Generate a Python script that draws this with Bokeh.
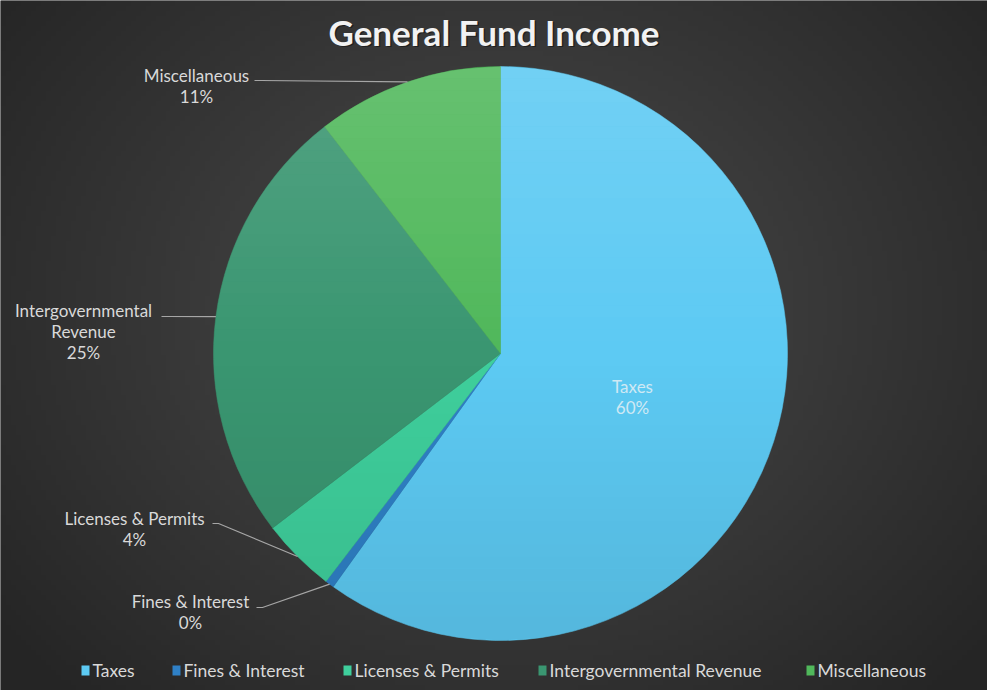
import numpy as np
from bokeh.plotting import figure
from bokeh.models import Range1d, ColumnDataSource
from bokeh.core.properties import value
from bokeh.embed import file_html
from bokeh.resources import INLINE

# ---- data ----
categories = ["Taxes", "Fines & Interest", "Licenses & Permits", "Intergovernmental Revenue", "Miscellaneous"]
shares = [59.9, 0.5, 4.2, 24.9, 10.5]
pct_labels = ["60%", "0%", "4%", "25%", "11%"]
label_lines = [["Taxes"], ["Fines & Interest"], ["Licenses & Permits"], ["Intergovernmental", "Revenue"], ["Miscellaneous"]]

# ---- style ----
colors = ["#5dcaf3", "#2f80c6", "#3fcf9c", "#3a9671", "#50b85b"]
W, H = 987, 690
FONT = "Lato"
CX, CY, R = 500, H - 353, 287

p = figure(width=W, height=H, output_backend="svg", toolbar_location=None,
           x_range=Range1d(0, W), y_range=Range1d(0, H), min_border=0)
p.axis.visible = False
p.grid.visible = False
p.outline_line_color = None
p.background_fill_color = "#333333"
p.border_fill_color = "#333333"

# radial gradient background
ny, nx = 138, 198
yy, xx = np.mgrid[0:ny, 0:nx]
gx = (xx + 0.5) / nx * W
gy = (yy + 0.5) / ny * H
d = np.sqrt(((gx - 500) / 620) ** 2 + ((gy - 380) / 520) ** 2)
lv = np.clip(76 - 38 * d, 37, 80).astype(np.uint32)
img = (255 << 24) | (lv << 16) | (lv << 8) | lv
p.image_rgba(image=[img.astype(np.uint32)], x=0, y=0, dw=W, dh=H)

# pie
total = sum(shares)
cum = np.cumsum([0] + shares) / total
starts = [np.pi / 2 - 2 * np.pi * c for c in cum[:-1]]
ends = [np.pi / 2 - 2 * np.pi * c for c in cum[1:]]
src = ColumnDataSource(dict(start=starts, end=ends, color=colors))
p.wedge(x=CX, y=CY, radius=R, start_angle="start", end_angle="end",
        direction="clock", fill_color="color", line_color="color", line_width=0.5, source=src)

# vertical shading overlay (lighter top, darker bottom)
nb = 48
edges = np.linspace(CY + R, CY - R, nb + 1)
bx, by, bc, ba = [], [], [], []
for k in range(nb):
    y1, y2 = edges[k], edges[k + 1]
    ys = np.linspace(y1, y2, 6)
    half = np.sqrt(np.clip(R ** 2 - (ys - CY) ** 2, 0, None))
    px = list(CX - half) + list(CX + half[::-1])
    py = list(ys) + list(ys[::-1])
    bx.append(px)
    by.append(py)
    t = (k + 0.5) / nb
    if t < 0.5:
        bc.append("#ffffff")
        ba.append(0.13 * (0.5 - t) * 2)
    else:
        bc.append("#000000")
        ba.append(0.09 * (t - 0.5) * 2)
p.patches(xs=bx, ys=by, fill_color=bc, fill_alpha=ba, line_color=None)

# title
title = "General Fund Income"
TY = H - 31
p.text(x=[W / 2 + 1.5], y=[TY - 1.5], text=[title], text_font=value(FONT), text_font_style="bold",
       text_font_size="35px", text_color="#111111", text_alpha=0.6, text_align="center", text_baseline="middle")
p.text(x=[W / 2], y=[TY], text=[title], text_font=value(FONT), text_font_style="bold",
       text_font_size="35px", text_color="#f2f2f2", text_align="center", text_baseline="middle")

# data labels (layout)
label_pos = [(632, 386), (190, 601), (134, 518), (83, 310), (196, 75)]
mids = [(a + b) / 2 for a, b in zip(cum[:-1], cum[1:])]
leader_from = [None, (256, 607), (212, 523), (161, 316), (254, 80)]
for i, cat in enumerate(categories):
    lx, ly = label_pos[i]
    lines = label_lines[i] + [pct_labels[i]]
    col = "#cfe9f4" if i == 0 else "#d9d9d9"
    for k, t in enumerate(lines):
        p.text(x=[lx], y=[H - (ly + 21 * k)], text=[t], text_font=value(FONT), text_font_size="17px",
               text_color=col, text_align="center", text_baseline="middle")
    if leader_from[i] is not None:
        ang = np.pi / 2 - 2 * np.pi * mids[i]
        ex = CX + R * np.cos(ang)
        ey = CY + R * np.sin(ang)
        sx, sy = leader_from[i]
        xs = [sx, sx + 6, ex]
        ys = [H - sy, H - sy, ey]
        p.line(x=xs, y=ys, line_color="#a6a6a6", line_width=1.2)

# legend (layout)
leg_x = [81, 172, 343, 538, 806]
leg_y = H - 670
for i, cat in enumerate(categories):
    p.rect(x=[leg_x[i] + 4], y=[leg_y], width=8, height=10, fill_color=colors[i], line_color=None)
    p.text(x=[leg_x[i] + 11], y=[leg_y], text=[cat], text_font=value(FONT), text_font_size="17.5px",
           text_color="#d9d9d9", text_align="left", text_baseline="middle")

open("out.html", "w").write(file_html(p, INLINE))
